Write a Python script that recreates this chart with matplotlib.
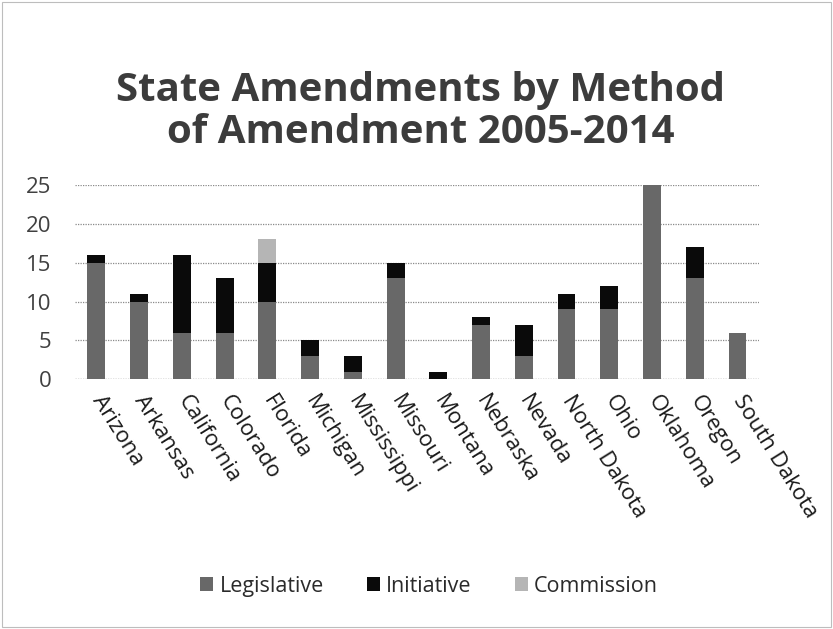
import numpy as np
import matplotlib
matplotlib.use('Agg')
from matplotlib import pyplot as plt
from matplotlib.patches import Rectangle

states = ['Arizona', 'Arkansas', 'California', 'Colorado', 'Florida', 'Michigan',
          'Mississippi', 'Missouri', 'Montana', 'Nebraska', 'Nevada', 'North Dakota',
          'Ohio', 'Oklahoma', 'Oregon', 'South Dakota']
legislative = [15, 10, 6, 6, 10, 3, 1, 13, 0, 7, 3, 9, 9, 25, 13, 6]
initiative = [1, 1, 10, 7, 5, 2, 2, 2, 1, 1, 4, 2, 3, 0, 4, 0]
commission = [0, 0, 0, 0, 3, 0, 0, 0, 0, 0, 0, 0, 0, 0, 0, 0]

plt.rcParams['font.family'] = ['Open Sans', 'DejaVu Sans']

fig = plt.figure(figsize=(8.33, 6.29), dpi=100)
ax = fig.add_axes([0.090, 0.397, 0.821, 0.309])

x = np.arange(len(states))
leg = np.array(legislative)
ini = np.array(initiative)
com = np.array(commission)
w = 0.42
ax.bar(x, leg, w, color='#686868', label='Legislative', zorder=3)
ax.bar(x, ini, w, bottom=leg, color='#0a0a0a', label='Initiative', zorder=3)
ax.bar(x, com, w, bottom=leg + ini, color='#b5b5b5', label='Commission', zorder=3)

ax.set_xlim(-0.5, len(states) - 0.5)
ax.set_ylim(0, 25)
ax.set_yticks(range(0, 26, 5))
ax.yaxis.grid(True, linestyle=(0, (1, 1)), color='#8a8a8a', linewidth=0.9, zorder=0)
for s in ax.spines.values():
    s.set_visible(False)
ax.axhline(0, color='#8a8a8a', linestyle=(0, (1, 1)), linewidth=0.9, zorder=1)
ax.tick_params(axis='both', length=0, colors='#404040')
ax.tick_params(axis='y', labelsize=16, pad=17)
ax.set_xticks(x)
ax.set_xticklabels(states, rotation=-58, ha='left', va='center',
                   rotation_mode='anchor', fontsize=16, color='#1a1a1a')
ax.tick_params(axis='x', pad=13)

fig.text(0.505, 0.822, 'State Amendments by Method\nof Amendment 2005-2014',
         ha='center', va='center', fontsize=29, fontweight='bold',
         color='#3c3c3c', linespacing=1.1)

fig.legend(loc='center', bbox_to_anchor=(0.515, 0.068), ncol=3, frameon=False,
           fontsize=15.5, handlelength=0.6, handleheight=0.6, handletextpad=0.3,
           columnspacing=2.0, labelcolor='#2a2a2a')

fig.patches.append(Rectangle((0.003, 0.003), 0.994, 0.994, transform=fig.transFigure,
                             fill=False, edgecolor='#bdbdbd', linewidth=0.8))

fig.savefig('out.png', dpi=100)
